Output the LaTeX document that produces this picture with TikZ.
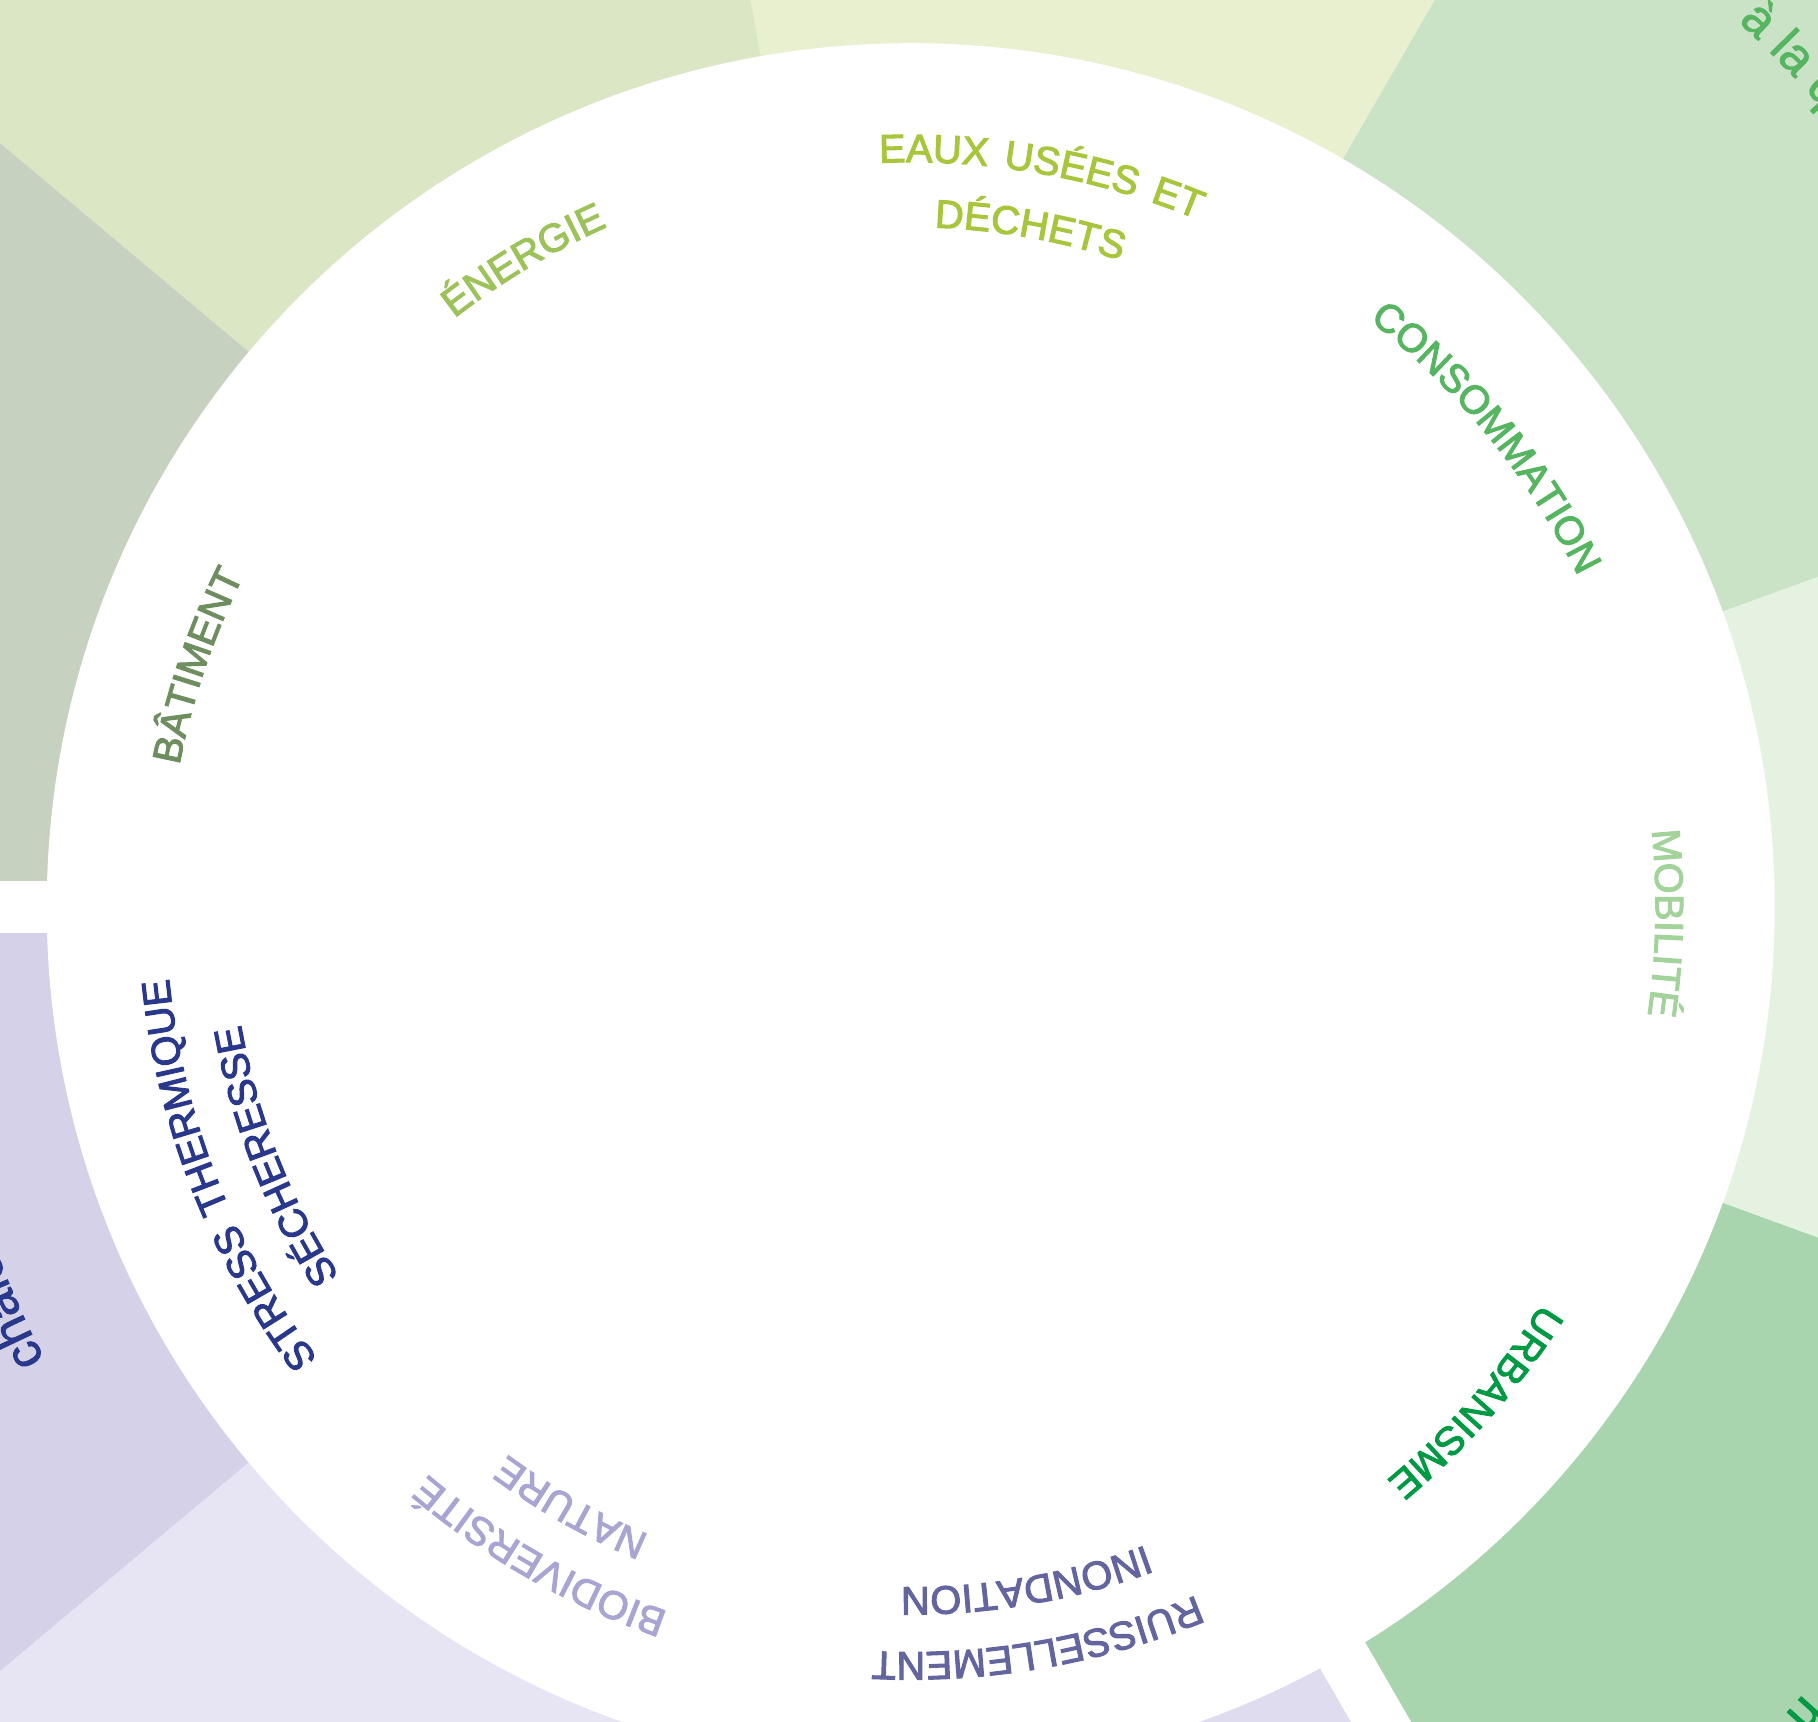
\documentclass[tikz,border=0pt]{standalone}
\usepackage{fontspec}
\setmainfont{Liberation Sans}
\newfontfamily\lblfont[LetterSpace=12,FakeBold=2.6]{Liberation Sans}
\newfontfamily\outfont[FakeBold=1.5]{Liberation Sans}
\usetikzlibrary{decorations.text}
\definecolor{secCons}{HTML}{CAE3C6}
\definecolor{secEaux}{HTML}{E9F0CF}
\definecolor{secEne}{HTML}{DBE6C4}
\definecolor{secBat}{HTML}{C6D2BF}
\definecolor{secStr}{HTML}{D4D1E8}
\definecolor{secBio}{HTML}{E7E5F3}
\definecolor{secRui}{HTML}{DFDCEF}
\definecolor{secUrb}{HTML}{A8D4AE}
\definecolor{secMob}{HTML}{E5F2E1}
\definecolor{txEaux}{HTML}{A8C63C}
\definecolor{txEne}{HTML}{9CC35A}
\definecolor{txCons}{HTML}{56B560}
\definecolor{txMob}{HTML}{A3D39B}
\definecolor{txUrb}{HTML}{009A44}
\definecolor{txRui}{HTML}{63659F}
\definecolor{txBio}{HTML}{A8A5D2}
\definecolor{txStr}{HTML}{29388A}
\definecolor{txBat}{HTML}{6F8E60}
\newcommand\ringlabel[4]{%
  \path[decorate,decoration={text along path,text align=center,
    text={|\lblfont\fontsize{11.3pt}{13pt}\selectfont\color{#3}|#4}}]
    (#1+45:#2) arc[start angle=#1+45, end angle=#1-45, radius=#2];}
\newcommand\outerlabel[4]{%
  \path[decorate,decoration={text along path,text align=left,
    text={|\outfont\fontsize{14.23pt}{16pt}\selectfont\color{#3}|#4}}]
    (#1:#2) arc[start angle=#1, end angle=#1-60, radius=#2];}
\begin{document}
\begin{tikzpicture}[x=0.01cm,y=0.01cm]
\useasboundingbox (-910.7,-814.8) rectangle (907.3,907.2);
\clip (-910.7,-814.8) rectangle (907.3,907.2);
% sectors
\foreach \a/\b/\c in {20/60/secCons,60/100/secEaux,100/140/secEne,140/180/secBat,
  180/220/secStr,220/260/secBio,260/300/secRui,300/340/secUrb,340/380/secMob}
  \fill[\c] (0,0) -- (\a:2000) arc[start angle=\a, end angle=\b, radius=2000] -- cycle;
% gaps
\fill[white,rotate=180] (0,-26) rectangle (2000,26);
\fill[white,rotate=300] (0,-26) rectangle (2000,26);
% central disc
\fill[white] (0,0) circle[radius=864];
% inner labels
\ringlabel{79.9}{745}{txEaux}{EAUX USÉES ET}
\ringlabel{80.0}{680}{txEaux}{DÉCHETS}
\ringlabel{120.9}{745}{txEne}{ÉNERGIE}
\ringlabel{39.2}{745}{txCons}{CONSOMMATION}
\ringlabel{-1.2}{745}{txMob}{MOBILITÉ}
\ringlabel{-41.2}{745}{txUrb}{URBANISME}
\ringlabel{-80.2}{745}{txRui}{RUISSELLEMENT}
\ringlabel{-80.3}{680}{txRui}{INONDATION}
\ringlabel{240.3}{745}{txBio}{BIODIVERSITÉ}
\ringlabel{240.5}{680}{txBio}{NATURE}
\ringlabel{201.4}{745}{txStr}{STRESS THERMIQUE}
\ringlabel{201.4}{680}{txStr}{SÉCHERESSE}
\ringlabel{161.3}{745}{txBat}{BÂTIMENT}
% outer ring fragments
\outerlabel{46.95}{1212}{txCons}{à la q}
\outerlabel{207.6}{977}{txStr}{chaleur}
\node[rotate=-131.8,anchor=base west,inner sep=0pt,text=txUrb,font=\outfont\fontsize{14.23pt}{16pt}\selectfont] (frag) at (893.3,-786.3) {n};
\end{tikzpicture}
\end{document}
